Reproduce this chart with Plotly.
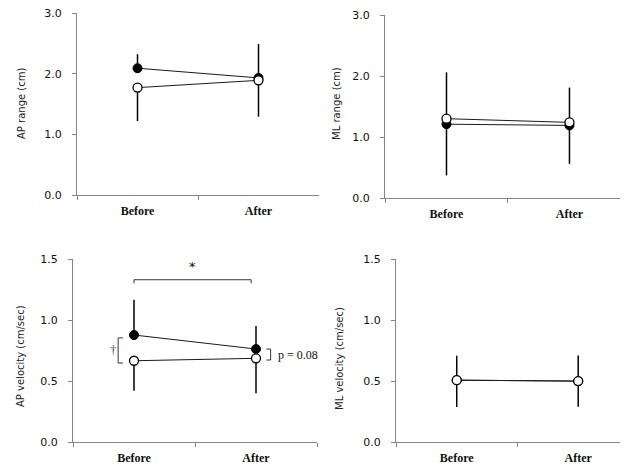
import plotly.graph_objects as go

# ---------------- data ----------------
categories = ["Before", "After"]

ap_range_filled = [2.09, 1.93]
ap_range_filled_sd = [0.23, 0.56]
ap_range_open = [1.77, 1.89]
ap_range_open_sd = [0.55, 0.60]

ml_range_filled = [1.21, 1.19]
ml_range_filled_sd = [0.85, 0.62]
ml_range_open = [1.30, 1.24]
ml_range_open_sd = [0.93, 0.68]

ap_vel_filled = [0.877, 0.762]
ap_vel_filled_sd = [0.288, 0.188]
ap_vel_open = [0.666, 0.686]
ap_vel_open_sd = [0.246, 0.286]

ml_vel_filled = [0.507, 0.499]
ml_vel_filled_sd = [0.20, 0.21]
ml_vel_open = [0.507, 0.499]
ml_vel_open_sd = [0.22, 0.21]

y_titles = ["AP range (cm)", "ML range (cm)", "AP velocity (cm/sec)", "ML velocity (cm/sec)"]

panels = [
    (ap_range_filled, ap_range_filled_sd, ap_range_open, ap_range_open_sd),
    (ml_range_filled, ml_range_filled_sd, ml_range_open, ml_range_open_sd),
    (ap_vel_filled, ap_vel_filled_sd, ap_vel_open, ap_vel_open_sd),
    (ml_vel_filled, ml_vel_filled_sd, ml_vel_open, ml_vel_open_sd),
]

# the page body has an 8px margin, so the figure is drawn 8px in from the corner
OFF = 8
W, H = 628 - OFF, 465 - OFF
fig = go.Figure()


def fx(px):
    return (px - OFF) / W


def fy(py):
    return 1 - (py - OFF) / H


# layout geometry (window pixels): x0, x1, ytop, ybottom, xrange_end, ymax, dtick
geo = [
    (77, 319, 13, 195, 1.5, 3.0, 1.0),
    (385, 628, 15, 198, 1.476, 3.0, 1.0),
    (73, 317, 259, 442, 1.5, 1.5, 0.5),
    (396, 628, 259, 442, 1.41, 1.5, 0.5),
]
title_pos = [(22, 104), (337, 104), (20, 356), (339, 358)]

AX = "#868686"
TICKFONT = dict(family="DejaVu Sans", size=11, color="#111111")
XFONT = dict(family="Liberation Serif", size=12, color="#111111", weight="bold")

for i, (pdata, g) in enumerate(zip(panels, geo)):
    filled, filled_sd, opn, opn_sd = pdata
    n = i + 1
    xa = "x" if n == 1 else f"x{n}"
    ya = "y" if n == 1 else f"y{n}"
    fig.add_trace(go.Scatter(
        x=categories, y=filled, mode="lines+markers", xaxis=xa, yaxis=ya,
        line=dict(color="#1a1a1a", width=1),
        marker=dict(symbol="circle", size=9, color="black", line=dict(color="black", width=1)),
        error_y=dict(type="data", symmetric=False, array=filled_sd,
                     arrayminus=[0] * len(filled_sd), color="black", thickness=1.5, width=0),
        showlegend=False, hoverinfo="skip"))
    fig.add_trace(go.Scatter(
        x=categories, y=opn, mode="lines+markers", xaxis=xa, yaxis=ya,
        line=dict(color="#1a1a1a", width=1),
        marker=dict(symbol="circle", size=9, color="white", line=dict(color="black", width=1.3)),
        error_y=dict(type="data", symmetric=False, array=[0] * len(opn_sd),
                     arrayminus=opn_sd, color="black", thickness=1.5, width=0),
        showlegend=False, hoverinfo="skip"))

    x0, x1, yt, yb, xr, ymax, dt = g
    xkey = "xaxis" if n == 1 else f"xaxis{n}"
    ykey = "yaxis" if n == 1 else f"yaxis{n}"
    fig.update_layout({
        xkey: dict(domain=[fx(x0), min(1.0, fx(x1))], anchor=ya, type="category",
                   range=[-0.5, xr], tickson="boundaries", ticks="outside",
                   ticklen=4, tickcolor=AX, tickwidth=1, showline=True,
                   linecolor=AX, linewidth=1, showgrid=False, zeroline=False,
                   tickfont=XFONT, fixedrange=True, automargin=False,
                   ticklabeloverflow="allow", ticklabelstandoff=5),
        ykey: dict(domain=[fy(yb), fy(yt)], anchor=xa,
                   range=[0, ymax], dtick=dt, tick0=0, tickformat=".1f",
                   ticks="outside", ticklen=4, tickcolor=AX, tickwidth=1,
                   showline=True, linecolor=AX, linewidth=1, showgrid=False,
                   zeroline=False, tickfont=TICKFONT, ticklabelstandoff=8,
                   fixedrange=True, automargin=False, ticklabeloverflow="allow"),
    })
    tx, ty = title_pos[i]
    fig.add_annotation(x=fx(tx), y=fy(ty), xref="paper", yref="paper",
                       xanchor="center", yanchor="middle",
                       text=y_titles[i], textangle=-90, showarrow=False,
                       font=dict(family="DejaVu Sans", size=10, color="#222222"))

# significance annotations on AP velocity panel
line_style = dict(color="#333333", width=1)
fig.add_shape(type="path", xref="x3", yref="y3",
              path="M 0.0,1.30 L 0.0,1.33 L 0.96,1.33 L 0.96,1.30", line=line_style)
fig.add_annotation(x=0.48, y=1.44, xref="x3", yref="y3", text="*", showarrow=False,
                   font=dict(family="DejaVu Sans", size=13, color="#111111"))
fig.add_shape(type="path", xref="x3", yref="y3",
              path="M -0.09,0.853 L -0.13,0.853 L -0.13,0.647 L -0.09,0.647", line=line_style)
fig.add_annotation(x=-0.17, y=0.76, xref="x3", yref="y3", text="†", showarrow=False,
                   font=dict(family="Liberation Serif", size=13, color="#7a3a20"))
fig.add_shape(type="path", xref="x3", yref="y3",
              path="M 1.085,0.762 L 1.12,0.762 L 1.12,0.672 L 1.085,0.672", line=line_style)
fig.add_annotation(x=1.16, y=0.717, xref="x3", yref="y3", text="p = 0.08", showarrow=False,
                   xanchor="left", font=dict(family="Liberation Serif", size=12, color="#111111"))

fig.update_layout(width=W, height=H, autosize=False,
                  margin=dict(l=0, r=0, t=0, b=0, autoexpand=False),
                  paper_bgcolor="white", plot_bgcolor="white")

fig.write_html("out.html")
